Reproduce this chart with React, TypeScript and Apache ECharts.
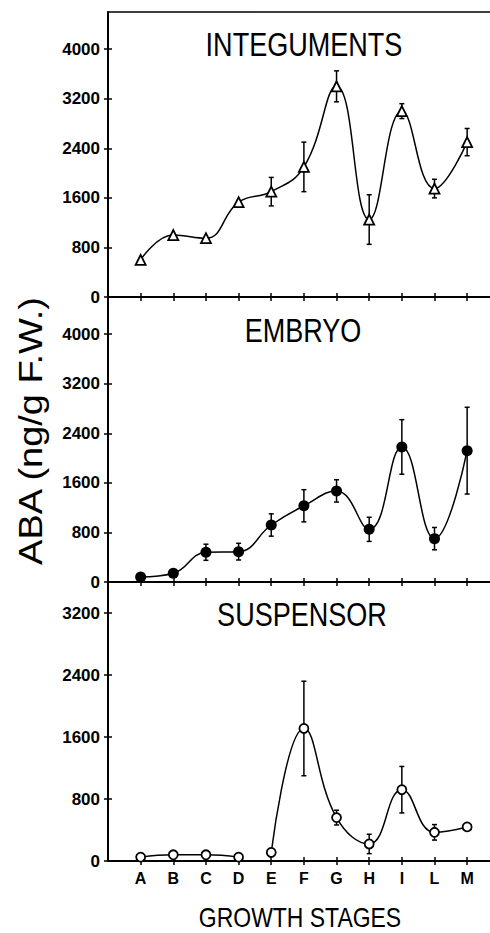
import React, { useEffect, useRef } from "react";
import * as echarts from "echarts";

const stages = ["A", "B", "C", "D", "E", "F", "G", "H", "I", "L", "M"];
const stagePos = [1, 2, 3, 4, 5, 6, 7, 8, 9, 10, 11];

const integuments = [600, 1000, 950, 1530, 1700, 2100, 3400, 1250, 3000, 1750, 2500];
const integumentsErr = [0, 0, 0, 0, 230, 400, 250, 400, 120, 150, 220];

const embryo = [80, 140, 480, 490, 920, 1230, 1470, 850, 2180, 700, 2120];
const embryoErr = [0, 0, 130, 135, 180, 260, 180, 195, 440, 180, 700];

const suspensor = [50, 80, 80, 50, 110, 1710, 560, 220, 920, 370, 440];
const suspensorErr = [0, 0, 0, 0, 0, 610, 95, 125, 300, 100, 0];

const yTicksTall = [0, 800, 1600, 2400, 3200, 4000];
const yTicksShort = [0, 800, 1600, 2400, 3200];

const TEXT_FONT = "'Liberation Sans', Arial, sans-serif";

function pts(vals: number[], from = 0, to = vals.length) {
  const out: number[][] = [];
  for (let i = from; i < to; i++) out.push([stagePos[i], vals[i]]);
  return out;
}
function errPts(vals: number[], errs: number[]) {
  const out: number[][] = [];
  vals.forEach((v, i) => {
    if (errs[i] > 0) out.push([stagePos[i], v, errs[i]]);
  });
  return out;
}

export default function App() {
  const ref = useRef<HTMLDivElement>(null);
  useEffect(() => {
    document.body.style.margin = "0";
    const chart = echarts.init(ref.current!, null, { renderer: "svg" });

    const grids = [
      { left: 108, top: 12, right: 0, height: 285 },
      { left: 108, top: 297, right: 0, height: 285 },
      { left: 108, top: 582, right: 0, height: 279 },
    ];
    const ymax = [4600, 4600, 3600];
    const yticks = [yTicksTall, yTicksTall, yTicksShort];

    const xAxes: any[] = [];
    const yAxes: any[] = [];
    const mainX: number[] = [];
    const mainY: number[] = [];
    grids.forEach((g, gi) => {
      mainX.push(xAxes.length);
      xAxes.push({
        type: "value", gridIndex: gi, min: 0, max: 11.7, position: "bottom",
        axisLine: { show: true, lineStyle: { color: "#000", width: 2 } },
        axisTick: { show: true, inside: false, length: 4, lineStyle: { color: "#000", width: 1.5 }, customValues: stagePos },
        axisLabel: {
          show: gi === 2, customValues: stagePos, margin: 9,
          formatter: (v: number) => stages[Math.round(v) - 1] ?? "",
          color: "#000", fontSize: 16, fontWeight: "bold", fontFamily: TEXT_FONT,
        },
        splitLine: { show: false },
      });
      xAxes.push({
        type: "value", gridIndex: gi, min: 0, max: 11.7, position: "bottom",
        axisLine: { show: false },
        axisTick: { show: true, inside: true, length: 4, lineStyle: { color: "#000", width: 1.5 }, customValues: stagePos },
        axisLabel: { show: false },
        splitLine: { show: false },
      });
      if (gi === 0) {
        xAxes.push({
          type: "value", gridIndex: gi, min: 0, max: 11.7, position: "top",
          axisLine: { show: true, lineStyle: { color: "#000", width: 1.5 } },
          axisTick: { show: false }, axisLabel: { show: false }, splitLine: { show: false },
        });
      }
      mainY.push(yAxes.length);
      yAxes.push({
        type: "value", gridIndex: gi, min: 0, max: ymax[gi], position: "left",
        axisLine: { show: true, lineStyle: { color: "#000", width: 2 } },
        axisTick: { show: true, inside: false, length: 4, lineStyle: { color: "#000", width: 1.5 }, customValues: yticks[gi] },
        axisLabel: {
          show: true, customValues: yticks[gi], margin: 8, color: "#000", fontSize: 17, fontWeight: "bold", fontFamily: TEXT_FONT,
          formatter: (v: number) => String(v),
        },
        splitLine: { show: false },
      });
      yAxes.push({
        type: "value", gridIndex: gi, min: 0, max: ymax[gi], position: "left",
        axisLine: { show: false },
        axisTick: { show: true, inside: true, length: 4, lineStyle: { color: "#000", width: 1.5 }, customValues: yticks[gi] },
        axisLabel: { show: false },
        splitLine: { show: false },
      });
    });

    const errSeries = (gi: number, vals: number[], errs: number[]) => ({
      type: "custom",
      xAxisIndex: mainX[gi],
      yAxisIndex: mainY[gi],
      z: 1,
      data: errPts(vals, errs),
      renderItem: (params: any, api: any) => {
        const x = api.value(0), y = api.value(1), e = api.value(2);
        const t = api.coord([x, y + e]);
        const b = api.coord([x, y - e]);
        const w = 2.5;
        const st = { stroke: "#000", lineWidth: 1.5 };
        return {
          type: "group",
          children: [
            { type: "line", shape: { x1: t[0], y1: t[1], x2: b[0], y2: b[1] }, style: st },
            { type: "line", shape: { x1: t[0] - w, y1: t[1], x2: t[0] + w, y2: t[1] }, style: st },
            { type: "line", shape: { x1: b[0] - w, y1: b[1], x2: b[0] + w, y2: b[1] }, style: st },
          ],
        };
      },
    });

    const lineSeries = (gi: number, data: number[][], symbol: string, size: number, filled: boolean) => ({
      type: "line",
      xAxisIndex: mainX[gi],
      yAxisIndex: mainY[gi],
      data,
      smooth: 0.45,
      z: 2,
      symbol,
      symbolSize: size,
      showAllSymbol: true,
      lineStyle: { color: "#000", width: 1.5 },
      itemStyle: { color: filled ? "#000" : "#fff", borderColor: "#000", borderWidth: filled ? 0 : 1.8 },
    });

    const title = (text: string, x: number, y: number, size: number) => ({
      type: "text", x, y, scaleX: 0.82,
      style: { text, font: `${size}px ${TEXT_FONT}`, fill: "#000", textAlign: "center", textVerticalAlign: "middle" },
    });

    const option: any = {
      animation: false,
      backgroundColor: "#fff",
      grid: grids,
      xAxis: xAxes,
      yAxis: yAxes,
      series: [
        errSeries(0, integuments, integumentsErr),
        lineSeries(0, pts(integuments), "triangle", 10, false),
        errSeries(1, embryo, embryoErr),
        lineSeries(1, pts(embryo), "circle", 11, true),
        errSeries(2, suspensor, suspensorErr),
        lineSeries(2, pts(suspensor, 0, 4), "circle", 9, false),
        lineSeries(2, pts(suspensor, 4), "circle", 9, false),
      ],
      graphic: [
        title("INTEGUMENTS", 304, 45, 33),
        title("EMBRYO", 303, 331, 33),
        title("SUSPENSOR", 302, 615, 33),
        title("GROWTH STAGES", 300, 917, 28),
        {
          type: "text", x: 31, y: 431, rotation: Math.PI / 2, scaleX: 1.15,
          style: { text: "ABA (ng/g F.W.)", font: `33px ${TEXT_FONT}`, fill: "#000", textAlign: "center", textVerticalAlign: "middle" },
        },
      ],
    };
    chart.setOption(option);
    return () => chart.dispose();
  }, []);
  return <div ref={ref} style={{ position: "absolute", left: 0, top: 0, width: 490, height: 933 }} />;
}
